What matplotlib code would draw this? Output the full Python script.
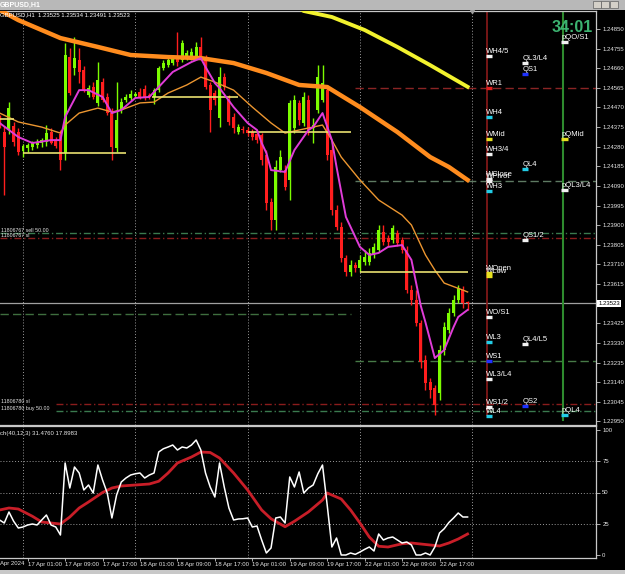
import numpy as np
import matplotlib
matplotlib.use("Agg")
import matplotlib.pyplot as plt
import matplotlib.transforms as mtransforms
from matplotlib.patches import Rectangle

plt.rcParams['font.family'] = ['Liberation Sans', 'DejaVu Sans']

# GBPUSD H1 candles, bar 0 = 17 Apr 00:00 (one bar per hour)
first_bar = -5
opens = [1.24409, 1.24351, 1.24361, 1.24380, 1.24351,
         1.24259, 1.24274, 1.24279, 1.24288, 1.24298, 1.24303, 1.24351, 1.24312, 1.24341, 1.24250,
         1.24714, 1.24661, 1.24700, 1.24651, 1.24530, 1.24569, 1.24492, 1.24593, 1.24521, 1.24443,
         1.24274, 1.24458, 1.24506, 1.24516, 1.24525, 1.24545, 1.24559, 1.24530, 1.24521, 1.24554,
         1.24661, 1.24675, 1.24685, 1.24719, 1.24700, 1.24709, 1.24709, 1.24714, 1.24763, 1.24709,
         1.24579, 1.24540, 1.24419, 1.24617, 1.24506, 1.24424, 1.24351, 1.24366, 1.24361, 1.24351,
         1.24341, 1.24337, 1.24240, 1.24012, 1.23925, 1.24167, 1.24167, 1.24119, 1.24371, 1.24492,
         1.24395, 1.24506, 1.24371, 1.24458, 1.24506, 1.24554, 1.24264, 1.23974, 1.23891, 1.23741,
         1.23674, 1.23707, 1.23693, 1.23722, 1.23722, 1.23756, 1.23780, 1.23867, 1.23838, 1.23828,
         1.23862, 1.23828, 1.23780, 1.23586, 1.23538, 1.23427, 1.23248, 1.23141, 1.23112, 1.23088,
         1.23296, 1.23393, 1.23475, 1.23538, 1.23586, 1.23525]
highs = [1.24433, 1.24380, 1.24496, 1.24400, 1.24371,
         1.24293, 1.24298, 1.24308, 1.24317, 1.24322, 1.24385, 1.24371, 1.24327, 1.24361, 1.24782,
         1.24758, 1.24811, 1.24758, 1.24671, 1.24579, 1.24593, 1.24690, 1.24612, 1.24540, 1.24467,
         1.24593, 1.24516, 1.24535, 1.24554, 1.24545, 1.24564, 1.24579, 1.24540, 1.24564, 1.24671,
         1.24700, 1.24714, 1.24724, 1.24835, 1.24796, 1.24748, 1.24758, 1.24787, 1.24811, 1.24724,
         1.24593, 1.24554, 1.24666, 1.24637, 1.24530, 1.24443, 1.24390, 1.24380, 1.24375, 1.24366,
         1.24361, 1.24346, 1.24264, 1.24032, 1.24216, 1.24264, 1.24191, 1.24506, 1.24530, 1.24506,
         1.24545, 1.24530, 1.24419, 1.24675, 1.24675, 1.24579, 1.24288, 1.23998, 1.23916, 1.23756,
         1.23732, 1.23722, 1.23756, 1.23780, 1.23790, 1.23814, 1.23901, 1.23901, 1.23853, 1.23901,
         1.23877, 1.23843, 1.23799, 1.23611, 1.23586, 1.23441, 1.23272, 1.23161, 1.23127, 1.23320,
         1.23432, 1.23499, 1.23562, 1.23611, 1.23606, 1.23534]
lows = [1.24371, 1.24046, 1.24341, 1.24283, 1.24240,
        1.24230, 1.24254, 1.24264, 1.24274, 1.24279, 1.24283, 1.24293, 1.24274, 1.24167, 1.24216,
        1.24530, 1.24627, 1.24588, 1.24545, 1.24521, 1.24511, 1.24477, 1.24496, 1.24433, 1.24216,
        1.24254, 1.24443, 1.24496, 1.24506, 1.24516, 1.24511, 1.24506, 1.24511, 1.24487, 1.24545,
        1.24651, 1.24666, 1.24675, 1.24671, 1.24690, 1.24700, 1.24700, 1.24709, 1.24700, 1.24559,
        1.24351, 1.24482, 1.24375, 1.24554, 1.24385, 1.24346, 1.24341, 1.24346, 1.24332, 1.24312,
        1.24298, 1.24191, 1.23974, 1.23877, 1.23877, 1.24158, 1.24070, 1.24022, 1.24346, 1.24385,
        1.24380, 1.24337, 1.24298, 1.24443, 1.24496, 1.24216, 1.23949, 1.23877, 1.23722, 1.23654,
        1.23654, 1.23674, 1.23674, 1.23707, 1.23707, 1.23741, 1.23770, 1.23804, 1.23799, 1.23814,
        1.23799, 1.23766, 1.23572, 1.23514, 1.23412, 1.23209, 1.23102, 1.23064, 1.22981, 1.23054,
        1.23272, 1.23378, 1.23461, 1.23524, 1.23499, 1.23491]
closes = [1.24385, 1.24279, 1.24467, 1.24303, 1.24254,
          1.24283, 1.24288, 1.24298, 1.24303, 1.24312, 1.24346, 1.24298, 1.24283, 1.24216, 1.24724,
          1.24540, 1.24709, 1.24642, 1.24554, 1.24564, 1.24521, 1.24603, 1.24506, 1.24443, 1.24279,
          1.24409, 1.24496, 1.24521, 1.24535, 1.24535, 1.24521, 1.24516, 1.24521, 1.24554, 1.24661,
          1.24685, 1.24700, 1.24709, 1.24690, 1.24782, 1.24734, 1.24738, 1.24763, 1.24709, 1.24569,
          1.24458, 1.24506, 1.24617, 1.24569, 1.24400, 1.24371, 1.24375, 1.24361, 1.24346, 1.24327,
          1.24312, 1.24216, 1.24008, 1.23925, 1.24182, 1.24230, 1.24085, 1.24492, 1.24506, 1.24409,
          1.24521, 1.24361, 1.24385, 1.24617, 1.24588, 1.24240, 1.23974, 1.23891, 1.23741, 1.23674,
          1.23707, 1.23693, 1.23732, 1.23746, 1.23766, 1.23795, 1.23877, 1.23819, 1.23819, 1.23887,
          1.23814, 1.23780, 1.23586, 1.23538, 1.23427, 1.23238, 1.23136, 1.23102, 1.23030, 1.23296,
          1.23407, 1.23475, 1.23538, 1.23596, 1.23524, 1.23523]

# moving averages (bar index, price)
fast_ma_bars = [-5, -3, -1, 2, 6, 8, 9, 12, 14, 17, 19, 21, 24, 27, 29, 32, 36, 38, 39, 41,
                42, 45, 48, 50, 51, 52, 53, 56, 58, 61, 62, 64, 66, 67, 69, 72, 74, 76, 78, 81,
                83, 85, 86, 88, 90, 92, 93, 95]
fast_ma = [1.24395, 1.24361, 1.24327, 1.24298, 1.24312, 1.24312, 1.24424, 1.24554, 1.24554, 1.24521,
           1.24443, 1.24458, 1.24516, 1.24521, 1.24569, 1.24642, 1.24690, 1.24709, 1.24666, 1.24588,
           1.24564, 1.24472, 1.24395, 1.24361, 1.24298, 1.24250, 1.24167, 1.24158, 1.24264, 1.24361,
           1.24375, 1.24443, 1.24312, 1.24182, 1.23940, 1.23795, 1.23756, 1.23766, 1.23795, 1.23804,
           1.23732, 1.23510, 1.23430, 1.23257, 1.23296, 1.23407, 1.23456, 1.23490]
mid_ma_bars = [-5, -1, 4, 8, 9, 12, 16, 19, 21, 25, 28, 31, 35, 38, 41, 45, 49, 53, 56, 59,
               64, 66, 68, 72, 76, 81, 83, 86, 88, 90, 94, 95]
mid_ma = [1.24443, 1.24400, 1.24375, 1.24346, 1.24385, 1.24443, 1.24467, 1.24448, 1.24458, 1.24492,
          1.24496, 1.24540, 1.24579, 1.24617, 1.24593, 1.24554, 1.24472, 1.24395, 1.24346, 1.24361,
          1.24385, 1.24312, 1.24230, 1.24119, 1.24022, 1.23949, 1.23901, 1.23756, 1.23683, 1.23620,
          1.23586, 1.23577]
slow_ma_bars = [-5, -1, 8, 16, 23, 31, 38, 45, 52, 59, 65, 72, 80, 87, 91, 95]
slow_ma = [1.24942, 1.24893, 1.24806, 1.24763, 1.24724, 1.24714, 1.24709, 1.24685, 1.24637, 1.24579,
           1.24569, 1.24472, 1.24351, 1.24230, 1.24182, 1.24119]
long_ma_bars = [56, 60, 66, 73, 80, 87, 95]
long_ma = [1.24990, 1.24937, 1.24908, 1.24845, 1.24763, 1.24675, 1.24570]

# daily open segments (start bar, end bar, price)
day_start = [-5, 0, 27.6, 48, 72]
day_end = [-2, 22, 46, 70, 95]
day_price = [1.24414, 1.24250, 1.24521, 1.24351, 1.23674]

# stochastic (40,12,3)
stoch_main = [28, 25.6, 34.4, 27, 21.6,
              22.4, 24, 24.8, 24, 28, 32, 24, 22.4, 16, 73.6,
              53.6, 70.4, 65.6, 52, 56, 49.6, 72, 60, 49.6, 29.6,
              48, 58.4, 61.6, 64, 65, 65.6, 61.6, 64, 65.6, 82.4,
              85, 86.4, 88, 84, 86.4, 85.6, 88, 92, 84, 65.6,
              54.4, 46.4, 73.6, 54.4, 37.6, 28, 28.8, 29, 29.6, 22.4,
              23.2, 12, 1.6, 5.6, 29.6, 30.4, 25.6, 62.4, 54.4, 66.4,
              49.6, 53.6, 56, 65, 72, 40, 6.4, 13.6, 0, 0,
              1.6, 0.5, 2.4, 4.5, 6.4, 3.2, 16.8, 12, 13.6, 14.4,
              12, 9.6, 10.4, 8, 0, 0, 1.6, 0, 6.4, 17.6,
              21, 26, 29.6, 33.6, 30.4, 30.4]
signal_bars = [-5, -3, -1, 2, 4, 6, 8, 10, 12, 14, 17, 19, 21, 24, 27, 29, 31, 33, 36, 38,
               40, 42, 45, 48, 51, 53, 56, 58, 61, 64, 65, 66, 68, 70, 72, 74, 76, 78, 81, 83,
               85, 87, 89, 91, 93, 95]
stoch_signal = [36, 37.6, 36.8, 31, 26.4, 25.6, 24.8, 30.4, 37.6, 42.4, 50, 53.6, 55.2, 56, 56.8,
                59, 65.6, 73.6, 78.4, 82.4, 82, 77.6, 65.6, 52, 36, 29, 22.6, 27, 34.5, 44,
                49.6, 48, 44.8, 36, 25.6, 14.4, 7, 6.4, 9, 9.6, 8.8, 8, 7.2, 9.6, 12.8, 16.8]

# level labels: weekly, quarterly, previous quarter
WHITE, RED, CYAN, YELLOW, BLUE = '#F2F2F2', '#E01E1E', '#22CCE6', '#E6E020', '#1E32FF'
week_names = ["WH4/5", "WR1", "WH4", "WMid", "WH3/4", "WClose", "WPivot", "WH3", "WOpen", "WLow",
              "WO/S1", "WL3", "WS1", "WL3/L4", "WS1/2", "WL4"]
week_prices = [1.24719, 1.24564, 1.24424, 1.24317, 1.24245, 1.24124, 1.24114, 1.24066, 1.23669, 1.23652,
               1.23456, 1.23335, 1.23243, 1.23156, 1.23020, 1.22977]
week_colors = [WHITE, RED, CYAN, YELLOW, WHITE, WHITE, WHITE, CYAN, YELLOW, YELLOW,
               WHITE, CYAN, BLUE, WHITE, WHITE, CYAN]
q_names = ["QL3/L4", "QS1", "QL4", "QS1/2", "QL4/L5", "QS2"]
q_prices = [1.24685, 1.24632, 1.24172, 1.23828, 1.23325, 1.23025]
q_colors = [WHITE, BLUE, CYAN, WHITE, WHITE, BLUE]
pq_names = ["pQO/S1", "pQMid", "pQL3/L4", "pQL4"]
pq_prices = [1.24787, 1.24317, 1.24070, 1.22981]
pq_colors = [WHITE, YELLOW, WHITE, CYAN]

# weekly pivot lines R1 / P / S1 and other horizontal levels
pivot_prices = [1.24564, 1.24114, 1.23243]
pivot_colors = ['#8A2424', '#5E7A62', '#477A47']
prev_level = 1.23470
order_labels = ["11806767 sell 50.00", "11806767 sl", "11806780 sl", "11806780 buy 50.00"]
order_prices = [1.23862, 1.23838, 1.23034, 1.23001]
order_colors = ['#3A7A4E', '#8A1C1C', '#8A1C1C', '#3A7A4E']
order_start = [-5, -5, 7, 7]
bid = 1.23523

price_ticks = [1.24850, 1.24755, 1.24660, 1.24565, 1.24470, 1.24375, 1.24280, 1.24185, 1.24090,
               1.23995, 1.23900, 1.23805, 1.23710, 1.23615, 1.23425, 1.23330, 1.23235, 1.23140,
               1.23045, 1.22950]
time_label_bars = [1, 9, 17, 25, 33, 41, 49, 57, 65, 73, 81, 89]
time_labels = ["17 Apr 01:00", "17 Apr 09:00", "17 Apr 17:00", "18 Apr 01:00", "18 Apr 09:00",
               "18 Apr 17:00", "19 Apr 01:00", "19 Apr 09:00", "19 Apr 17:00", "22 Apr 01:00",
               "22 Apr 09:00", "22 Apr 17:00"]
day_grid = [0, 24, 48, 72, 96]

x_left, x_right = -4.915, 122.44
y_bottom, y_top = 1.22933, 1.24937

W, H = 625.0, 574.0


def frame(x0, y0, x1, y1):
    return [x0 / W, 1 - y1 / H, (x1 - x0) / W, (y1 - y0) / H]


fig = plt.figure(figsize=(W / 100, H / 100), dpi=100, facecolor='black')
ax = fig.add_axes(frame(0, 11, 596, 425), facecolor='black')
st = fig.add_axes(frame(0, 426, 596, 558), facecolor='black')

# candles
bars = np.arange(first_bar, first_bar + len(opens))
o, h, l, c = (np.array(v) for v in (opens, highs, lows, closes))
cols = np.where(c >= o, '#7CFC00', '#FF1E1E')
ax.vlines(bars, l, h, colors=cols, lw=1, zorder=3)
ax.bar(bars, np.maximum(np.abs(c - o), 0.00003), bottom=np.minimum(o, c), width=0.64,
       color=cols, lw=0, zorder=3)

# moving averages
ax.plot(slow_ma_bars, slow_ma, color='#FF8C1E', lw=3.2, zorder=4)
ax.plot(long_ma_bars, long_ma, color='#F2F22E', lw=2.8, zorder=4)
ax.plot(mid_ma_bars, mid_ma, color='#EC9630', lw=1.0, zorder=5)
ax.plot(fast_ma_bars, fast_ma, color='#E03CD8', lw=1.4, zorder=6)
ax.hlines(day_price, day_start, day_end, color='#E8E070', lw=1.2, zorder=5)

for b in day_grid:
    for a in (ax, st):
        a.axvline(b, color='#9A9A9A', lw=0.7, ls=(0, (1, 2)), zorder=1)
ax.plot(day_grid[-1], y_top, marker='v', ms=3, color='#A0A0A0', clip_on=False, zorder=9)

for p, cl in zip(pivot_prices, pivot_colors):
    ax.plot([71, x_right], [p, p], color=cl, lw=1, ls=(0, (6, 3)), zorder=2)
ax.plot([x_left, 70], [prev_level, prev_level], color='#3E6E3E', lw=1, ls=(0, (6, 3)), zorder=2)
for lab, p, cl, s in zip(order_labels, order_prices, order_colors, order_start):
    ax.plot([s, x_right], [p, p], color=cl, lw=1, ls=(0, (5, 2, 1, 2)), zorder=2)
    ax.annotate(lab, (x_left, p), xytext=(1, 0.3), textcoords='offset points', ha='left',
                va='bottom', fontsize=3.8, color='#E6E6E6', zorder=6)
ax.axhline(bid, color='#A0A0A0', lw=0.9, zorder=2)

# level columns
ax.plot([99.2, 99.2], [y_top, 1.22981], color='#8B1A1A', lw=1.2, zorder=2)
ax.plot([115.4, 115.4], [y_top, 1.22957], color='#2E8B2E', lw=1.5, zorder=2)


def levels(col, names, prices, colors):
    for name, p, cl in zip(names, prices, colors):
        ax.annotate(name, (col, p), xytext=(0.3, 1.0), textcoords='offset points', ha='left',
                    va='bottom', fontsize=5.5, color='white', zorder=7)
        ax.plot([col, col + 1.4], [p, p], color=cl, lw=2.4, solid_capstyle='butt', zorder=8)


levels(98.9, week_names, week_prices, week_colors)
levels(106.6, q_names, q_prices, q_colors)
levels(115.0, pq_names, pq_prices, pq_colors)

# stochastic panel
st.plot(signal_bars, stoch_signal, color='#C81E28', lw=2.0, zorder=3)
st.plot(bars, stoch_main, color='white', lw=1.1, zorder=4)
for v in (25, 50, 75):
    st.axhline(v, color='#9A9A9A', lw=0.7, ls=(0, (1, 2)), zorder=1)

# axes styling
ax.set_xlim(x_left, x_right)
ax.set_ylim(y_bottom, y_top)
st.set_xlim(x_left, x_right)
st.set_ylim(-2.4, 103.2)
ax.set_yticks(price_ticks, [f"{p:.5f}" for p in price_ticks])
st.set_yticks([0, 25, 50, 75, 100], ["0", "25", "50", "75", "100"])
st.set_xticks(time_label_bars, time_labels)
for t in st.get_xticklabels():
    t.set_ha('left')
for a in (ax, st):
    a.yaxis.tick_right()
    a.tick_params(axis='y', direction='out', length=3, width=0.6, color='#C8C8C8',
                  labelsize=4.3, labelcolor='#E6E6E6', pad=1.5)
    a.spines['left'].set_visible(False)
    for s in ('top', 'bottom', 'right'):
        a.spines[s].set_color('#C8C8C8')
        a.spines[s].set_linewidth(0.9)
ax.tick_params(axis='x', bottom=False, labelbottom=False)
st.tick_params(axis='x', direction='out', length=2, width=0.6, color='#C8C8C8',
               labelsize=4.3, labelcolor='#E6E6E6', pad=0.8)

blend = mtransforms.blended_transform_factory(ax.transAxes, ax.transData)
ax.text(1.004, bid, f"{bid:.5f}", transform=blend, fontsize=4.3, color='black', va='center',
        ha='left', bbox=dict(boxstyle='square,pad=0.15', fc='white', ec='none'),
        clip_on=False, zorder=10)

# texts and window chrome
fig.text(0, 1 - 14.5 / H, "GBPUSD,H1  1.23525 1.23534 1.23491 1.23523", fontsize=4.3,
         color='white', va='center', ha='left')
fig.text(0, 1 - 433.5 / H, "ch(40,12,3) 31.4760 17.8983", fontsize=4.3, color='#E6E6E6',
         va='center', ha='left')
fig.text(0.5 / W, 1 - 563.5 / H, "Apr 2024", fontsize=4.3, color='#E6E6E6', va='center', ha='left')
fig.text(593 / W, 1 - 27.5 / H, "34:01", fontsize=11.5, fontweight='bold', color='#3CB371',
         ha='right', va='center')

fig.add_artist(Rectangle((0, 1 - 10 / H), 1, 10 / H, transform=fig.transFigure,
                         facecolor='#B8B8B8', edgecolor='none'))
fig.text(0, 1 - 5 / H, "GBPUSD,H1", fontsize=5, color='white', fontweight='bold',
         va='center', ha='left')
for x0 in (593, 601, 610):
    fig.add_artist(Rectangle((x0 / W, 1 - 8 / H), 8 / W, 7 / H, transform=fig.transFigure,
                             facecolor='#D4D0C8', edgecolor='#606060', lw=0.5))
fig.add_artist(Rectangle((0, 0), 1, 4 / H, transform=fig.transFigure,
                         facecolor='#C8C8C8', edgecolor='none'))

fig.savefig('out.png', dpi=100, facecolor='black')
